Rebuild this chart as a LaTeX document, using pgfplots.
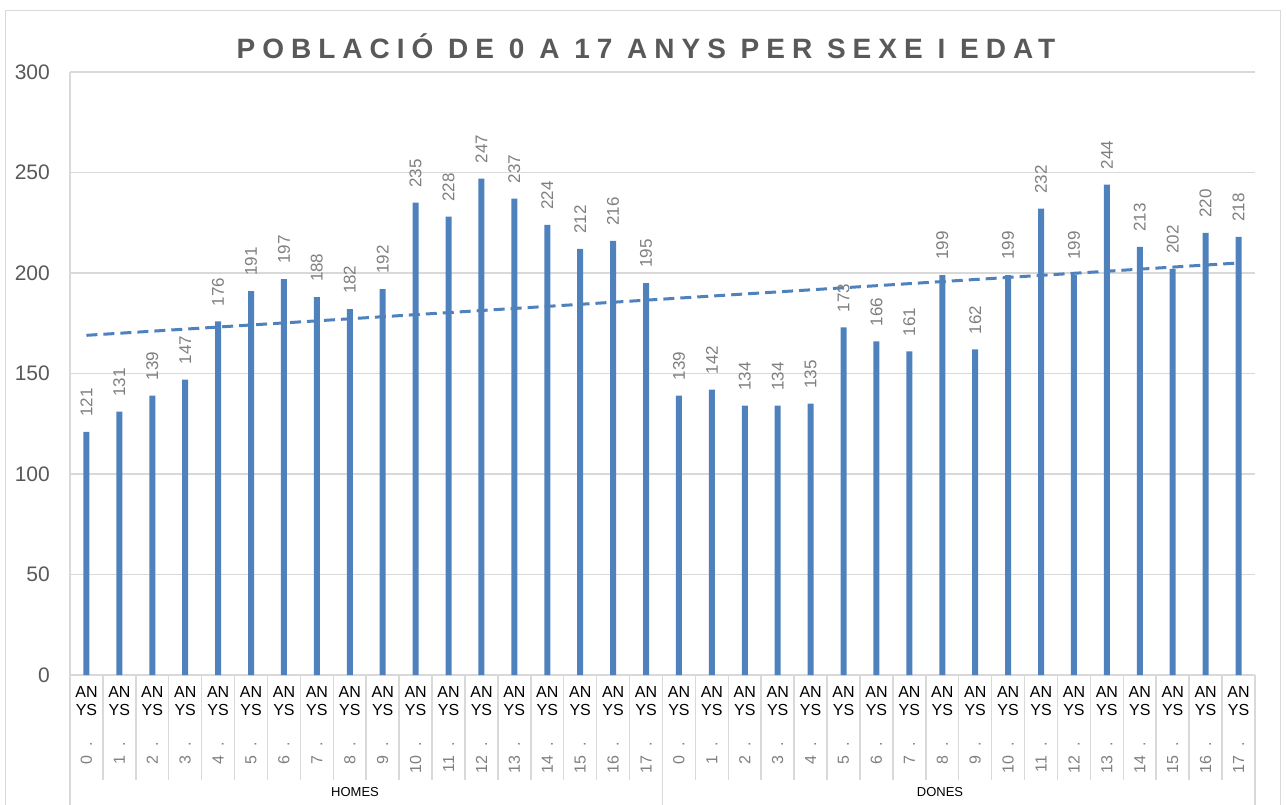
\documentclass[border=0pt]{standalone}
\usepackage{fontspec}
\setmainfont{Liberation Sans}
\newfontfamily\titlefont[LetterSpace=25]{Liberation Sans Bold}
\usepackage{pgfplots}
\pgfplotsset{compat=1.18}
\definecolor{barblue}{HTML}{4F81BD}
\definecolor{gridgray}{HTML}{D9D9D9}
\definecolor{txtgray}{HTML}{595959}
\definecolor{lblgray}{HTML}{7F7F7F}
\begin{document}
\begin{tikzpicture}
\useasboundingbox (0pt,0pt) rectangle (1286pt,-804pt);
\draw[gridgray, line width=1pt] (5pt,-10pt) rectangle (1280pt,-830pt);
\node[font=\titlefont\fontsize{28}{32}\selectfont, text=txtgray, anchor=base] at (646pt,-58pt) {POBLACIÓ DE 0 A 17 ANYS PER SEXE I EDAT};
\begin{axis}[
  at={(70pt,-675pt)}, anchor=south west,
  scale only axis, width=1185pt, height=603pt,
  xmin=-0.5, xmax=35.5, ymin=0, ymax=300,
  clip=false,
  ytick={0,50,...,300},
  xtick={0,...,35},
  xticklabel={AN\\YS},
  major tick length=0pt,
  ymajorgrids, grid style={gridgray, line width=1.5pt},
  axis x line=bottom, axis y line=left,
  axis line style={gridgray, line width=1.5pt, -},
  /pgf/number format/assume math mode=true,
  yticklabel style={font=\fontsize{21}{25}\selectfont, text=txtgray, inner sep=0pt, xshift=-20pt},
  xticklabel style={align=center, font=\fontsize{16}{18}\selectfont, text=black, inner sep=0pt, yshift=-11pt},
]
\addplot[ybar, bar width=6pt, fill=barblue, draw=none,
  nodes near coords,
  nodes near coords style={yshift=15pt, rotate=90, anchor=west, inner sep=0pt,
    font=\fontsize{17}{17}\selectfont, text=lblgray,
    /pgf/number format/assume math mode=true}]
coordinates {
(0,121) (1,131) (2,139) (3,147) (4,176) (5,191) (6,197) (7,188) (8,182)
(9,192) (10,235) (11,228) (12,247) (13,237) (14,224) (15,212) (16,216) (17,195)
(18,139) (19,142) (20,134) (21,134) (22,135) (23,173) (24,166) (25,161) (26,199)
(27,162) (28,199) (29,232) (30,199) (31,244) (32,213) (33,202) (34,220) (35,218)
};
\addplot[barblue, line width=3pt, dash pattern=on 11pt off 6pt] coordinates {(0,169) (35,205)};
\pgfplotsinvokeforeach{0,...,34}{
  \draw[gridgray, line width=1.5pt] (axis cs:{#1+0.5},0) -- (axis cs:{#1+0.5},-52.2);
}
\draw[gridgray, line width=1.5pt] (axis cs:-0.5,0) -- (axis cs:-0.5,-70);
\draw[gridgray, line width=1.5pt] (axis cs:17.5,0) -- (axis cs:17.5,-70);
\draw[gridgray, line width=1.5pt] (axis cs:35.5,0) -- (axis cs:35.5,-70);
\pgfplotsinvokeforeach{0,...,17}{
  \node[rotate=90, anchor=east, inner sep=0pt, text=lblgray, font=\fontsize{16}{16}\selectfont] at (axis cs:#1,-33.3) {#1\ \ .};
  \node[rotate=90, anchor=east, inner sep=0pt, text=lblgray, font=\fontsize{16}{16}\selectfont] at (axis cs:{#1+18},-33.3) {#1\ \ .};
}
\node[font=\fontsize{13}{13}\selectfont, anchor=base] at (axis cs:8.16,-60.2) {HOMES};
\node[font=\fontsize{13}{13}\selectfont, anchor=base] at (axis cs:25.93,-60.2) {DONES};
\end{axis}
\end{tikzpicture}
\end{document}
